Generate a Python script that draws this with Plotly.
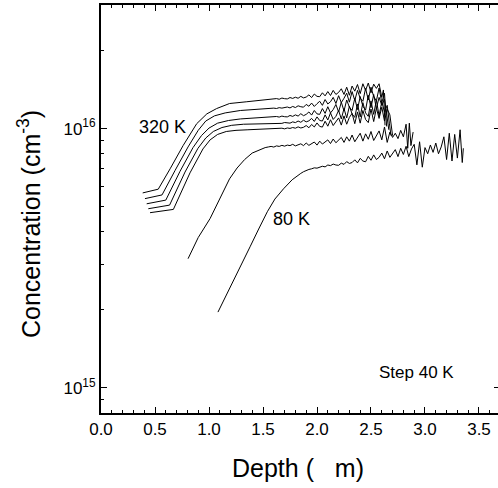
import plotly.graph_objects as go

# Depth (um) and concentration (1e15 cm^-3)
d_320 = [0.386, 0.53, 0.64, 0.76, 0.886, 0.98, 1.07, 1.19, 1.35, 1.50,
         1.600, 1.625, 1.650, 1.675, 1.700, 1.725, 1.750, 1.775, 1.800, 1.825,
         1.850, 1.875, 1.900, 1.925, 1.950, 1.975, 2.000, 2.025, 2.050, 2.075,
         2.100, 2.125, 2.150, 2.175, 2.200, 2.225, 2.250, 2.275, 2.300, 2.325,
         2.350, 2.375, 2.400, 2.425, 2.450, 2.475, 2.500, 2.525, 2.550, 2.575,
         2.600, 2.615, 2.630]
c_320 = [5.65, 5.84, 7.0, 8.6, 10.45, 11.4, 11.95, 12.5, 12.7, 12.85,
         13.00, 13.06, 12.98, 13.12, 13.05, 13.02, 13.18, 13.08, 13.22, 13.10,
         13.32, 13.14, 13.24, 13.50, 13.18, 13.60, 13.32, 13.28, 13.75, 13.38,
         13.90, 13.42, 14.05, 13.55, 13.80, 14.25, 13.55, 14.45, 13.45, 14.60,
         13.95, 14.80, 13.65, 14.90, 14.05, 15.00, 13.75, 14.85, 14.30, 14.90,
         13.20, 14.10, 10.30]

d_280 = [0.407, 0.565, 0.686, 0.806, 0.90, 0.97, 1.05, 1.15, 1.29, 1.45,
         1.600, 1.625, 1.650, 1.675, 1.700, 1.725, 1.750, 1.775, 1.800, 1.825,
         1.850, 1.875, 1.900, 1.925, 1.950, 1.975, 2.000, 2.025, 2.050, 2.075,
         2.100, 2.125, 2.150, 2.175, 2.200, 2.225, 2.250, 2.275, 2.300, 2.325,
         2.350, 2.375, 2.400, 2.425, 2.450, 2.475, 2.500, 2.525, 2.550, 2.575,
         2.600, 2.625, 2.645]
c_280 = [5.37, 5.55, 6.9, 8.5, 9.85, 10.7, 11.2, 11.5, 11.75, 11.9,
         12.00, 11.96, 12.05, 12.00, 12.08, 12.12, 12.02, 12.18, 12.06, 12.25,
         12.15, 12.10, 12.40, 12.20, 12.55, 12.18, 12.48, 12.75, 12.30, 12.95,
         12.45, 12.70, 13.20, 12.50, 13.40, 12.60, 13.10, 13.70, 12.65, 13.90,
         12.85, 14.05, 13.10, 12.75, 14.30, 12.90, 14.45, 13.30, 12.80, 14.35,
         12.60, 13.70, 10.20]

d_240 = [0.423, 0.60, 0.732, 0.852, 0.93, 1.00, 1.08, 1.18, 1.29, 1.45,
         1.600, 1.625, 1.650, 1.675, 1.700, 1.725, 1.750, 1.775, 1.800, 1.825,
         1.850, 1.875, 1.900, 1.925, 1.950, 1.975, 2.000, 2.025, 2.050, 2.075,
         2.100, 2.125, 2.150, 2.175, 2.200, 2.225, 2.250, 2.275, 2.300, 2.325,
         2.350, 2.375, 2.400, 2.425, 2.450, 2.475, 2.500, 2.525, 2.550, 2.575,
         2.600, 2.625, 2.645, 2.665]
c_240 = [5.13, 5.3, 6.85, 8.45, 9.4, 10.05, 10.5, 10.75, 10.9, 11.0,
         11.10, 11.14, 11.08, 11.18, 11.12, 11.10, 11.24, 11.15, 11.30, 11.18,
         11.42, 11.22, 11.35, 11.60, 11.28, 11.75, 11.40, 11.35, 11.95, 11.45,
         12.15, 11.50, 11.85, 12.40, 11.60, 12.65, 11.70, 12.90, 12.10, 11.75,
         13.10, 11.85, 13.30, 12.20, 11.80, 13.45, 12.05, 13.55, 11.95, 13.20,
         12.30, 13.00, 11.40, 9.90]

d_200 = [0.438, 0.635, 0.778, 0.898, 0.97, 1.04, 1.12, 1.21, 1.32, 1.47,
         1.625, 1.650, 1.675, 1.700, 1.725, 1.750, 1.775, 1.800, 1.825,
         1.850, 1.875, 1.900, 1.925, 1.950, 1.975, 2.000, 2.025, 2.050, 2.075,
         2.100, 2.125, 2.150, 2.175, 2.200, 2.225, 2.250, 2.275, 2.300, 2.325,
         2.350, 2.375, 2.400, 2.425, 2.450, 2.475, 2.500, 2.525, 2.550, 2.575,
         2.600, 2.625, 2.650, 2.670, 2.685]
c_200 = [4.91, 5.07, 6.8, 8.4, 9.2, 9.75, 10.1, 10.3, 10.4, 10.45,
         10.50, 10.54, 10.48, 10.56, 10.52, 10.50, 10.62, 10.55, 10.70,
         10.58, 10.78, 10.62, 10.72, 10.95, 10.66, 11.10, 10.75, 10.70, 11.30,
         10.80, 11.50, 10.85, 11.15, 11.75, 10.90, 11.95, 11.00, 12.20, 11.40,
         11.05, 12.45, 11.10, 12.60, 11.50, 11.15, 12.80, 11.35, 12.90, 11.20,
         12.70, 11.60, 12.30, 10.50, 9.40]

d_160 = [0.454, 0.67, 0.824, 0.944, 1.01, 1.08, 1.16, 1.25, 1.36, 1.50,
         1.650, 1.675, 1.700, 1.725, 1.750, 1.775, 1.800, 1.825,
         1.850, 1.875, 1.900, 1.925, 1.950, 1.975, 2.000, 2.025, 2.050, 2.075,
         2.100, 2.125, 2.150, 2.175, 2.200, 2.225, 2.250, 2.275, 2.300, 2.325,
         2.350, 2.375, 2.400, 2.425, 2.450, 2.475, 2.500, 2.525, 2.550, 2.575,
         2.600, 2.625, 2.650, 2.675, 2.700]
c_160 = [4.74, 4.88, 6.75, 8.35, 9.05, 9.5, 9.75, 9.85, 9.9, 9.95,
         10.00, 10.04, 9.98, 10.06, 10.02, 10.10, 10.04, 10.16,
         10.06, 10.12, 10.28, 10.08, 10.38, 10.15, 10.52, 10.20, 10.14, 10.68,
         10.22, 10.82, 10.28, 10.60, 11.00, 10.32, 11.20, 10.40, 11.05, 11.45,
         10.45, 11.60, 10.50, 11.75, 10.85, 10.55, 11.90, 10.65, 12.00, 10.95,
         12.10, 10.70, 11.90, 11.30, 9.40]

d_120 = [0.806, 0.90, 1.01, 1.10, 1.19, 1.26, 1.33, 1.40, 1.47, 1.52,
         1.550, 1.575, 1.600, 1.625, 1.650, 1.675, 1.700, 1.725, 1.750, 1.775,
         1.800, 1.825, 1.850, 1.875, 1.900, 1.925, 1.950, 1.975, 2.000, 2.025,
         2.050, 2.075, 2.100, 2.125, 2.150, 2.175, 2.200, 2.225, 2.250, 2.275,
         2.300, 2.325, 2.350, 2.375, 2.400, 2.425, 2.450, 2.475, 2.500, 2.525,
         2.550, 2.575, 2.600, 2.625, 2.650, 2.675, 2.700, 2.725, 2.750, 2.775,
         2.800, 2.825, 2.840, 2.855, 2.870, 2.890]
c_120 = [3.15, 3.8, 4.5, 5.4, 6.4, 7.05, 7.6, 8.05, 8.3, 8.45,
         8.50, 8.54, 8.49, 8.58, 8.54, 8.62, 8.56, 8.64, 8.60, 8.70,
         8.58, 8.66, 8.74, 8.60, 8.80, 8.62, 8.72, 8.88, 8.64, 8.95,
         8.72, 8.85, 9.05, 8.76, 9.12, 8.82, 9.02, 9.25, 8.85, 9.30,
         8.95, 9.45, 8.90, 9.20, 9.60, 8.95, 9.55, 9.10, 9.75, 9.00,
         9.45, 9.80, 9.05, 10.15, 8.85, 9.70, 9.25, 9.60, 9.15, 9.85,
         9.30, 10.40, 8.40, 10.50, 8.60, 9.70]

d_80 = [1.083, 1.20, 1.30, 1.38, 1.46, 1.54, 1.61, 1.69, 1.77,
        1.800, 1.825, 1.850, 1.875, 1.900, 1.925, 1.950, 1.975, 2.000, 2.025,
        2.050, 2.075, 2.100, 2.125, 2.150, 2.175, 2.200, 2.225, 2.250, 2.275,
        2.300, 2.325, 2.350, 2.375, 2.400, 2.425, 2.450, 2.475, 2.500, 2.525,
        2.550, 2.575, 2.600, 2.625, 2.650, 2.675, 2.700, 2.725, 2.750, 2.775,
        2.800, 2.825, 2.850, 2.875, 2.900, 2.925, 2.950, 2.975, 3.000, 3.025,
        3.050, 3.075, 3.100, 3.125, 3.150, 3.175, 3.200, 3.225, 3.250, 3.275,
        3.300, 3.325, 3.345, 3.355]
c_80 = [1.96, 2.45, 3.0, 3.5, 4.1, 4.78, 5.35, 5.86, 6.35,
        6.50, 6.62, 6.72, 6.82, 6.90, 6.96, 7.00, 7.06, 7.04, 7.12,
        7.16, 7.12, 7.24, 7.20, 7.30, 7.24, 7.22, 7.36, 7.28, 7.46,
        7.34, 7.40, 7.58, 7.38, 7.68, 7.50, 7.45, 7.82, 7.55, 7.92,
        7.60, 7.75, 8.05, 7.65, 8.20, 7.75, 8.00, 8.30, 7.80, 8.40,
        7.95, 8.55, 7.80, 8.35, 8.70, 7.25, 8.90, 7.10, 8.45, 8.00,
        8.65, 8.10, 8.80, 8.00, 8.50, 9.30, 7.60, 9.60, 7.50, 9.50,
        7.70, 9.90, 7.40, 8.40]

series = [(d_320, c_320), (d_280, c_280), (d_240, c_240), (d_200, c_200),
          (d_160, c_160), (d_120, c_120), (d_80, c_80)]

y_major = [1e15, 1e16]
y_major_text = ["10<sup>15</sup>", "10<sup>16</sup>"]
y_minor = [9e14, 2e15, 3e15, 4e15, 5e15, 6e15, 7e15, 8e15, 9e15, 2e16]

FONT = "Liberation Sans, Arial, sans-serif"

fig = go.Figure()
for d, c in series:
    fig.add_trace(go.Scatter(x=d, y=[v * 1e15 for v in c], mode="lines",
                             line=dict(color="black", width=1),
                             showlegend=False, hoverinfo="skip"))
# carriers for the extra tick-only axes
fig.add_trace(go.Scatter(x=[None], y=[None], yaxis="y2", showlegend=False,
                         hoverinfo="skip"))
fig.add_trace(go.Scatter(x=[None], y=[None], yaxis="y3", showlegend=False,
                         hoverinfo="skip"))

XMAX = 3.676
YR = [14.903, 16.477]

fig.update_layout(
    width=498, height=488,
    margin=dict(l=101, r=0, t=5, b=75, autoexpand=False),
    paper_bgcolor="white", plot_bgcolor="white",
    font=dict(family=FONT, color="black", size=17),
    xaxis=dict(range=[0, XMAX], tickmode="linear", tick0=0, dtick=0.5,
               tickformat=".1f", automargin=False,
               ticks="inside", ticklen=6, tickwidth=1.2, tickcolor="black",
               showline=True, linewidth=2, linecolor="black", mirror="ticks",
               showgrid=False, zeroline=False,
               tickfont=dict(size=17, family=FONT),
               minor=dict(tick0=0, dtick=0.1, ticks="inside", ticklen=3,
                          tickwidth=1, tickcolor="black", showgrid=False)),
    yaxis=dict(type="log", range=YR, tickmode="array", tickvals=y_major,
               ticktext=y_major_text, automargin=False,
               ticks="inside", ticklen=6, tickwidth=1.2, tickcolor="black",
               showline=True, linewidth=2, linecolor="black", mirror=False,
               showgrid=False, zeroline=False,
               tickfont=dict(size=17, family=FONT)),
    yaxis2=dict(type="log", range=YR, overlaying="y", side="right",
                tickmode="array", tickvals=y_major, automargin=False,
                ticks="inside", ticklen=4, tickwidth=1.2,
                tickcolor="black", showticklabels=False, showline=False,
                showgrid=False, zeroline=False),
    yaxis3=dict(type="log", range=YR, overlaying="y", side="left",
                tickmode="array", tickvals=y_minor, automargin=False,
                ticks="inside", ticklen=3, tickwidth=1,
                tickcolor="black", showticklabels=False, showline=False,
                showgrid=False, zeroline=False),
)

annots = [
    dict(text="320 K", x=0.565, y=16.008, size=18),
    dict(text="80 K", x=1.76, y=15.652, size=18),
    dict(text="Step 40 K", x=2.917, y=15.058, size=17),
]
for a in annots:
    fig.add_annotation(text=a["text"], x=a["x"], y=a["y"], xref="x", yref="y",
                       showarrow=False, xanchor="center", yanchor="middle",
                       font=dict(size=a["size"], family=FONT, color="black"))

fig.add_annotation(text="Concentration (cm<sup>-3</sup>)", textangle=-90,
                   xref="paper", yref="paper", x=(29 - 101) / 397,
                   y=(413 - 224) / 408, xanchor="center", yanchor="middle",
                   showarrow=False,
                   font=dict(size=25, family=FONT, color="black"))
fig.add_annotation(text="Depth (\u00a0\u00a0\u00a0m)",
                   xref="paper", yref="paper", x=(298 - 101) / 397,
                   y=(413 - 468) / 408, xanchor="center", yanchor="middle",
                   showarrow=False,
                   font=dict(size=25, family=FONT, color="black"))

fig.write_html("out.html", config={"displayModeBar": False},
               post_script="document.body.style.margin='0';"
                           "document.body.style.overflow='hidden';")
